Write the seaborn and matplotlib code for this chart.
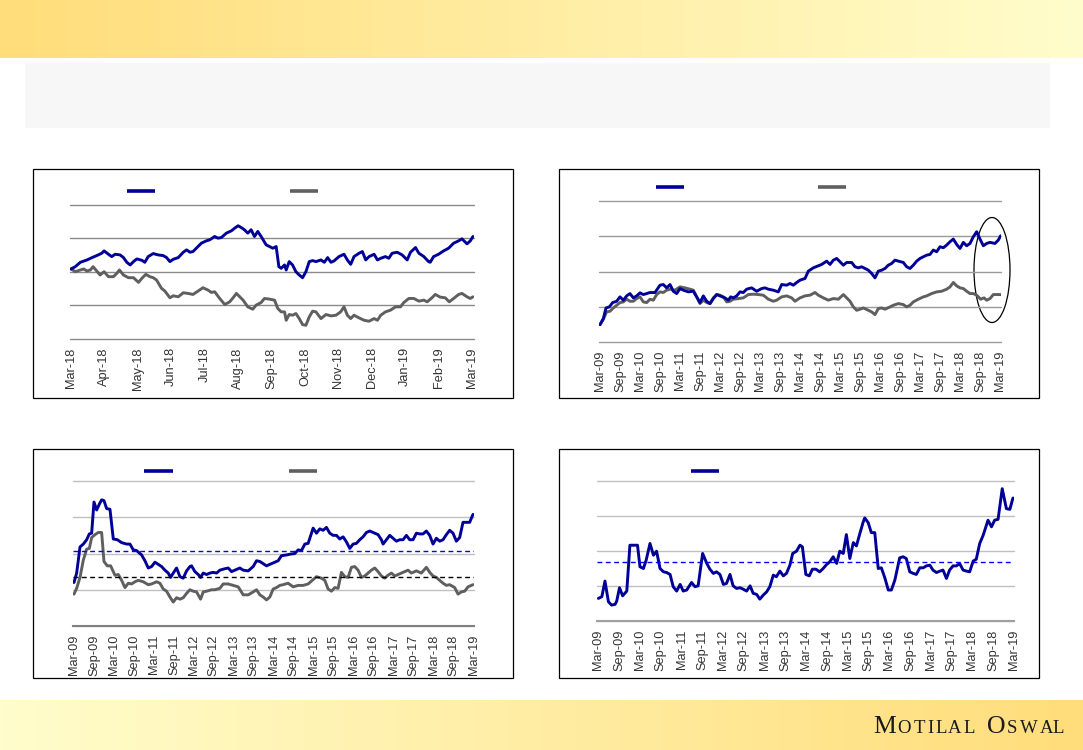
import matplotlib
matplotlib.use("Agg")
import matplotlib.pyplot as plt
from matplotlib.patches import Rectangle, Ellipse
from matplotlib.colors import LinearSegmentedColormap
import seaborn as sns
import numpy as np

# ---- data ----
# panel 1: 1-year, rebased index, x = months since Mar-18
p1_blue_m = [0.00, 0.13, 0.28, 0.48, 0.63, 0.77, 0.92, 0.99, 1.12, 1.22, 1.32, 1.47, 1.57, 1.67, 1.77, 1.87,
             1.97, 2.12, 2.21, 2.31, 2.46, 2.61, 2.76, 2.86, 2.96, 3.06, 3.21, 3.36, 3.46, 3.56, 3.65, 3.75,
             3.90, 4.05, 4.15, 4.30, 4.40, 4.50, 4.65, 4.80, 4.90, 5.00, 5.09, 5.19, 5.29, 5.39, 5.49, 5.59,
             5.69, 5.84, 5.94, 6.04, 6.14, 6.22, 6.29, 6.39, 6.44, 6.53, 6.63, 6.73, 6.83, 6.93, 7.03, 7.13,
             7.23, 7.33, 7.48, 7.58, 7.68, 7.78, 7.87, 8.02, 8.17, 8.27, 8.37, 8.47, 8.62, 8.72, 8.82, 8.92,
             9.07, 9.17, 9.27, 9.41, 9.51, 9.61, 9.76, 9.91, 10.06, 10.16, 10.31, 10.41, 10.56, 10.70, 10.75,
             10.85, 11.00, 11.15, 11.30, 11.45, 11.60, 11.70, 11.85, 11.95, 12.03]
p1_blue = [100.9, 101.6, 102.9, 103.6, 104.3, 104.9, 105.6, 106.3, 105.3, 104.6, 105.3, 105.1, 104.3, 102.9,
           102.1, 103.1, 103.9, 103.5, 102.9, 104.6, 105.5, 105.1, 104.9, 104.3, 103.1, 103.8, 104.3, 105.9,
           106.6, 105.9, 106.1, 107.1, 108.6, 109.3, 109.6, 110.6, 110.1, 110.3, 111.6, 112.3, 113.1, 113.8,
           113.3, 112.6, 111.6, 112.6, 110.6, 112.1, 110.6, 108.1, 107.6, 107.1, 107.6, 101.6, 101.1, 102.1,
           100.6, 103.1, 102.1, 100.1, 99.1, 98.3, 100.1, 103.1, 103.4, 103.1, 103.6, 102.9, 104.3, 102.9,
           103.3, 104.6, 105.3, 103.6, 102.3, 104.6, 105.6, 106.1, 103.6, 104.6, 105.3, 103.6, 104.1, 104.6,
           104.1, 105.6, 105.9, 105.1, 103.6, 105.9, 107.3, 105.6, 104.6, 103.1, 102.9, 104.6, 105.3, 106.3,
           107.1, 108.6, 109.3, 109.9, 108.4, 109.3, 110.6]
p1_grey_m = [0.00, 0.13, 0.28, 0.38, 0.48, 0.58, 0.66, 0.77, 0.87, 0.99, 1.12, 1.27, 1.37, 1.45, 1.57, 1.72,
             1.87, 2.02, 2.12, 2.24, 2.36, 2.46, 2.56, 2.71, 2.81, 2.96, 3.06, 3.21, 3.36, 3.51, 3.65, 3.80,
             3.95, 4.10, 4.20, 4.30, 4.45, 4.60, 4.75, 4.85, 4.95, 5.05, 5.15, 5.29, 5.44, 5.54, 5.69, 5.79,
             5.94, 6.09, 6.19, 6.29, 6.39, 6.44, 6.53, 6.63, 6.73, 6.83, 6.93, 7.03, 7.13, 7.23, 7.33, 7.48,
             7.63, 7.78, 7.93, 8.07, 8.17, 8.27, 8.37, 8.47, 8.62, 8.77, 8.92, 9.07, 9.17, 9.27, 9.41, 9.56,
             9.71, 9.86, 9.96, 10.11, 10.26, 10.41, 10.56, 10.66, 10.80, 10.90, 11.05, 11.20, 11.32, 11.45,
             11.60, 11.70, 11.85, 11.95, 12.03]
p1_grey = [100.9, 100.1, 100.6, 100.9, 100.3, 100.6, 101.6, 100.3, 99.1, 100.1, 98.6, 98.6, 99.6, 100.6, 99.1,
           98.3, 98.3, 96.9, 98.1, 99.3, 98.6, 98.3, 97.6, 95.1, 94.3, 92.3, 92.9, 92.6, 93.8, 93.6, 93.3, 94.3,
           95.3, 94.6, 93.9, 94.1, 92.1, 90.3, 91.1, 92.3, 93.6, 92.6, 91.6, 89.6, 88.9, 90.1, 90.9, 92.1, 91.9,
           91.6, 89.1, 88.1, 88.1, 85.6, 87.3, 87.1, 87.6, 86.1, 84.3, 84.1, 86.6, 88.3, 88.1, 86.1, 87.3, 86.9,
           87.1, 88.1, 89.6, 87.1, 86.1, 87.1, 86.3, 85.6, 85.3, 86.1, 85.6, 87.1, 88.1, 88.6, 89.6, 89.6, 90.9,
           92.1, 92.1, 91.3, 91.6, 91.1, 92.3, 93.3, 92.5, 92.3, 91.1, 92.1, 93.3, 93.6, 92.6, 92.1, 92.6]
p1_labels = ["Mar-18", "Apr-18", "May-18", "Jun-18", "Jul-18", "Aug-18", "Sep-18", "Oct-18",
             "Nov-18", "Dec-18", "Jan-19", "Feb-19", "Mar-19"]

# panel 2: 10-year index, x = months since Mar-09
p2_blue_m = [0, 1, 1.8, 2.8, 3.8, 5, 6, 7, 8, 9, 10, 11, 12, 13, 14, 15, 16.5, 18, 19, 20, 21, 22, 23, 24, 25,
             26.5, 28, 29, 30, 31, 32, 33, 34, 35, 36, 37.5, 38.5, 39.2, 40, 41, 42, 43, 44, 45.5, 47, 48.5, 49.5,
             50.5, 52, 53.5, 54.5, 56, 57, 58, 59, 60, 61.5, 62.5, 64, 65.5, 66.5, 68, 69, 70, 71, 72, 73, 74,
             75.5, 76.5, 77.5, 78.5, 79.5, 80.5, 81.5, 82.5, 83.5, 84.5, 85.5, 86.5, 87.5, 88.5, 89.5, 91, 92, 93,
             94, 95, 96, 97, 98, 99, 100, 101, 102, 103, 104, 105, 106, 107, 108, 109, 110, 111, 112, 113, 114,
             115, 116, 117, 118.5, 119.5, 120.2]
p2_blue = [74.6, 83.2, 98.3, 99.8, 105.9, 107.8, 114.0, 109.3, 115.4, 118.7, 112.6, 115.4, 119.7, 117.3, 118.7,
           120.2, 120.2, 130.6, 131.5, 126.8, 131.5, 122.0, 118.7, 125.8, 123.5, 121.1, 122.0, 114.0, 105.9, 115.4,
           107.8, 104.5, 111.6, 117.3, 115.4, 112.6, 109.3, 114.0, 112.6, 115.4, 121.1, 120.2, 124.9, 126.8, 122.0,
           125.8, 126.8, 124.9, 123.5, 121.1, 131.5, 130.6, 133.0, 130.6, 134.4, 137.7, 140.1, 150.5, 155.2, 158.1,
           160.0, 164.7, 160.0, 166.1, 168.5, 163.8, 159.0, 162.8, 162.8, 156.7, 155.2, 156.7, 154.3, 151.9, 147.2,
           141.0, 150.5, 151.9, 154.3, 159.0, 161.4, 166.1, 164.7, 162.8, 156.7, 154.3, 159.0, 164.7, 168.5, 170.9,
           173.2, 174.2, 180.4, 178.0, 185.1, 183.7, 187.5, 192.2, 196.0, 188.4, 182.7, 191.3, 186.5, 189.8, 199.3,
           206.4, 196.0, 186.5, 189.8, 191.3, 189.8, 194.6, 200.7]
p2_grey_m = [0, 1, 2, 3, 4, 5, 6, 7, 8, 9, 10, 11, 12, 13, 14, 15, 16, 17, 18, 19, 20, 21, 22.5, 24, 25.5, 27,
             28, 29, 30, 31, 32, 33, 34, 35, 36, 37, 38, 39, 40, 41.5, 43, 44.5, 46, 47.5, 49, 50.5, 52, 53, 54.5,
             56, 57.5, 58.5, 60, 61.5, 63, 64.5, 65.5, 67, 68.5, 70, 71.5, 73, 74, 75, 76, 77, 78, 79, 80.5, 81.5,
             82.5, 83.5, 84.5, 85.5, 87, 88, 89.5, 91, 92, 93, 94, 95.5, 97, 98, 99.5, 101, 102.5, 104, 105, 106,
             107, 108, 109, 110, 111, 112, 113, 114.2, 115.2, 116, 117, 118, 119, 120.2]
p2_grey = [74.6, 82.2, 92.7, 93.6, 98.3, 102.1, 105.9, 106.9, 110.7, 107.8, 107.8, 111.6, 114.0, 106.9, 105.9,
           110.7, 109.3, 117.3, 121.1, 120.2, 123.5, 124.9, 123.5, 128.2, 126.8, 124.9, 123.5, 114.0, 104.5, 109.3,
           105.9, 104.5, 112.6, 117.3, 116.4, 114.0, 106.9, 107.8, 110.7, 111.6, 112.6, 117.3, 117.8, 117.3, 116.4,
           110.7, 107.8, 109.3, 114.0, 115.4, 112.6, 107.8, 112.6, 115.4, 116.4, 120.2, 116.4, 112.6, 109.3, 111.6,
           110.7, 117.3, 112.6, 107.8, 99.8, 95.0, 96.5, 98.3, 95.0, 92.7, 88.9, 97.4, 98.3, 96.5, 99.8, 102.1,
           104.5, 103.1, 99.8, 102.1, 106.9, 110.7, 114.0, 115.4, 118.7, 121.1, 122.0, 124.9, 128.2, 134.4, 129.6,
           126.8, 125.8, 122.0, 118.7, 118.7, 116.4, 110.7, 112.6, 109.3, 111.6, 117.3, 117.3, 117.3]

# panel 3: 10-year valuation multiple, with long-period averages
p3_blue_m = [0, 0.8, 1.8, 2.8, 3.8, 4.6, 5.3, 6.0, 6.8, 7.6, 8.3, 9.0, 9.8, 10.8, 11.8, 13.0, 14.3, 15.8, 16.8,
             17.8, 18.8, 20.3, 21.3, 22.3, 23.3, 24.3, 25.3, 26.3, 27.3, 28.3, 29.0, 29.8, 30.8, 31.8, 32.8, 33.8,
             34.8, 35.3, 36.3, 37.3, 38.0, 38.8, 39.8, 40.8, 41.8, 42.8, 43.8, 45.3, 46.3, 47.3, 48.3, 49.8, 50.8,
             52.3, 53.8, 54.8, 55.8, 56.8, 57.8, 58.8, 60.3, 61.3, 62.3, 63.8, 64.8, 66.3, 67.3, 68.3, 69.3, 70.3,
             71.3, 71.8, 72.8, 73.8, 74.8, 75.8, 76.8, 77.8, 78.8, 79.8, 80.8, 81.8, 82.8, 83.8, 84.8, 85.8, 86.8,
             87.8, 88.8, 90.3, 91.3, 92.3, 92.8, 93.8, 94.8, 95.8, 96.8, 97.8, 98.8, 99.8, 100.8, 101.8, 102.8,
             103.8, 104.8, 105.8, 106.8, 107.8, 108.8, 109.8, 110.8, 111.8, 112.8, 113.8, 114.8, 115.8, 116.8,
             117.8, 118.8, 119.8]
p3_blue = [11.0, 12.3, 15.9, 16.3, 16.9, 17.7, 17.8, 22.1, 21.0, 21.8, 22.4, 22.3, 21.2, 21.1, 17.0, 16.9, 16.5,
           16.3, 16.3, 15.5, 15.4, 14.8, 14.0, 13.0, 13.2, 13.8, 13.5, 13.2, 12.7, 12.3, 11.7, 12.3, 13.0, 11.8,
           11.6, 12.6, 13.2, 13.3, 12.5, 12.1, 11.7, 12.3, 12.1, 12.3, 12.4, 12.3, 12.7, 12.9, 13.0, 12.5, 12.7,
           13.0, 12.7, 12.6, 13.2, 14.0, 13.9, 13.6, 13.3, 13.5, 13.8, 14.0, 14.7, 14.8, 14.9, 15.0, 15.5, 15.4,
           16.3, 16.4, 17.8, 18.5, 17.8, 18.4, 18.2, 18.6, 17.8, 17.5, 17.5, 17.0, 17.3, 16.6, 15.7, 16.3, 16.4,
           16.9, 17.3, 17.9, 18.1, 17.8, 17.6, 16.9, 16.3, 16.9, 17.5, 17.1, 16.7, 16.9, 16.9, 17.5, 16.9, 16.9,
           17.8, 17.7, 17.7, 18.1, 17.5, 16.3, 17.1, 16.7, 16.9, 17.6, 18.2, 17.8, 16.7, 17.2, 19.3, 19.3, 19.3,
           20.4]
p3_grey_m = [0, 0.8, 1.8, 2.8, 3.8, 4.6, 5.3, 6.3, 7.3, 8.3, 9.0, 10.0, 11.0, 12.3, 13.3, 14.3, 15.3, 16.3, 17.3,
             18.3, 19.3, 20.8, 22.3, 23.3, 24.8, 25.8, 26.8, 27.8, 28.8, 29.8, 30.8, 31.8, 32.8, 33.8, 34.8, 35.8,
             36.8, 38.0, 38.8, 39.8, 41.3, 42.3, 43.8, 44.8, 46.3, 47.8, 49.3, 50.8, 52.3, 53.8, 54.8, 55.8, 56.8,
             57.8, 58.8, 59.8, 60.8, 61.8, 62.8, 64.3, 65.8, 67.3, 68.8, 70.3, 71.3, 72.8, 74.3, 75.3, 76.3, 77.3,
             78.3, 79.3, 80.3, 81.3, 82.3, 83.3, 84.3, 85.3, 86.3, 87.3, 88.3, 89.3, 90.3, 91.3, 92.3, 93.3, 94.3,
             95.3, 96.3, 97.3, 98.3, 99.3, 100.3, 101.3, 102.8, 104.3, 105.8, 106.8, 107.8, 108.8, 109.8, 110.8,
             111.8, 112.8, 114.3, 115.3, 116.3, 117.3, 118.3, 119.8]
p3_grey = [9.4, 10.2, 11.7, 14.1, 15.6, 15.7, 17.2, 17.6, 17.9, 17.9, 13.9, 13.3, 13.3, 12.0, 12.1, 11.3, 10.3,
           10.9, 10.8, 11.1, 11.3, 11.1, 10.7, 10.8, 11.1, 10.9, 10.1, 9.8, 9.0, 8.3, 8.9, 8.7, 8.9, 9.5, 10.0, 9.8,
           9.7, 8.7, 9.7, 9.8, 10.0, 10.0, 10.2, 10.8, 10.8, 10.6, 10.4, 9.3, 9.3, 9.7, 10.0, 9.3, 9.0, 8.6, 9.0,
           10.1, 10.3, 10.6, 10.7, 10.9, 10.4, 10.6, 10.6, 10.8, 11.2, 11.8, 11.6, 11.3, 10.1, 9.8, 10.3, 10.2,
           12.4, 11.8, 11.7, 13.1, 13.2, 12.7, 11.7, 11.9, 12.3, 12.7, 13.0, 12.5, 11.9, 11.6, 12.0, 12.3, 11.9,
           12.1, 12.3, 12.5, 12.7, 12.3, 12.6, 12.3, 13.1, 12.4, 11.9, 11.7, 11.3, 10.9, 10.6, 10.7, 10.3, 9.4,
           9.7, 9.8, 10.4, 10.7]
p3_blue_avg = 15.4
p3_grey_avg = 11.7

# panel 4: premium (%) with average
p4_m = [0, 1.0, 1.9, 2.9, 3.8, 4.8, 5.3, 6.1, 7.0, 8.2, 9.1, 10.1, 11.3, 12.0, 13.0, 13.8, 14.9, 15.9, 16.8, 17.8,
        18.8, 19.7, 20.7, 21.6, 22.6, 23.6, 24.5, 25.5, 26.9, 27.9, 28.8, 30.1, 31.3, 32.2, 33.2, 34.1, 35.1, 36.1,
        37.0, 38.0, 38.9, 39.9, 40.9, 41.8, 42.8, 43.8, 44.7, 45.7, 46.6, 47.6, 48.6, 49.5, 50.5, 51.4, 52.4, 53.4,
        54.3, 55.3, 56.1, 57.2, 58.2, 58.9, 59.9, 60.9, 61.8, 62.8, 63.9, 64.9, 65.9, 66.8, 67.8, 68.8, 69.7, 70.7,
        71.6, 72.6, 73.6, 74.5, 75.5, 76.4, 76.9, 77.9, 78.8, 79.8, 80.8, 81.7, 82.7, 83.7, 84.6, 85.6, 87.0, 88.0,
        88.9, 89.9, 90.9, 91.8, 92.8, 93.8, 94.7, 95.7, 96.6, 97.6, 98.6, 99.5, 100.5, 101.4, 102.4, 103.4, 104.3,
        105.3, 106.3, 107.2, 108.2, 109.1, 110.1, 111.1, 112.5, 113.5, 114.4, 115.4, 116.6, 117.8, 118.8, 119.7]
p4_val = [12.9, 13.9, 22.8, 11.0, 9.1, 9.5, 11.4, 19.0, 14.4, 17.1, 43.3, 43.3, 43.3, 31.0, 30.0, 34.8, 44.3, 37.6,
          39.9, 30.0, 28.1, 27.7, 26.6, 19.6, 17.1, 20.9, 17.1, 17.7, 22.0, 19.6, 20.1, 38.6, 32.9, 29.6, 27.2, 28.1,
          26.6, 20.9, 21.5, 26.6, 20.1, 18.6, 19.0, 18.2, 17.1, 20.1, 15.8, 15.2, 12.5, 14.8, 16.7, 19.6, 26.2, 25.3,
          28.5, 25.8, 27.2, 31.9, 38.6, 39.9, 43.3, 42.4, 26.6, 25.8, 29.6, 29.6, 28.1, 30.0, 32.3, 33.8, 36.7, 32.9,
          39.9, 38.6, 49.4, 35.7, 44.8, 42.9, 50.0, 56.2, 58.9, 56.2, 50.5, 50.5, 30.0, 30.4, 24.7, 17.7, 17.7, 23.4,
          36.1, 36.7, 35.7, 28.1, 27.2, 26.6, 30.4, 30.4, 31.5, 31.9, 29.1, 27.7, 28.5, 29.1, 24.3, 29.1, 31.5, 31.5,
          32.9, 29.1, 28.5, 28.1, 34.2, 35.3, 44.3, 49.0, 57.6, 53.8, 57.6, 58.1, 75.6, 64.2, 63.8, 70.3]
p4_avg = 33.8

half_year_labels = []
for yr in range(9, 20):
    half_year_labels.append(f"Mar-{yr:02d}")
    if yr < 19:
        half_year_labels.append(f"Sep-{yr:02d}")

BLUE = "#000099"
GREY = "#5f5f5f"
W, H = 1083, 750

sns.set_style("white")
plt.rcParams["font.family"] = ["Liberation Sans", "DejaVu Sans"]

fig = plt.figure(figsize=(W / 100, H / 100), dpi=100)

# background layer in pixel coords
bg = fig.add_axes([0, 0, 1, 1])
grad = np.linspace(0, 1, 256)[None, :]
cmap = LinearSegmentedColormap.from_list("band", ["#FFDD7A", "#FFFDCC"])
bg.imshow(grad, cmap=cmap, extent=[0, W, 58, 0], aspect="auto")
bg.imshow(grad[:, ::-1], cmap=cmap, extent=[0, W, 750, 700], aspect="auto")
bg.set_xlim(0, W)
bg.set_ylim(H, 0)
bg.axis("off")
bg.add_patch(Rectangle((25, 63), 1025, 65, color="#F7F7F7", lw=0))
for (x0, y0, x1, y1) in [(33, 169, 513, 398), (559, 169, 1039, 398), (33, 449, 513, 678), (559, 449, 1039, 678)]:
    bg.add_patch(Rectangle((x0, y0), x1 - x0, y1 - y0, fill=False, ec="black", lw=0.9))

# legend swatches (legend text is blank in the source)
for (x0, x1, y, c) in [(127, 155, 191, BLUE), (290, 318, 191, GREY), (656, 684, 187, BLUE), (818, 846, 187, GREY),
                       (144, 173, 471, BLUE), (289, 317, 471, GREY), (691, 719, 471, BLUE)]:
    bg.plot([x0, x1], [y, y], color=c, lw=2.6, solid_capstyle="butt")

# highlight ellipse on panel 2
bg.add_patch(Ellipse((992, 270), 36, 105, fill=False, ec="black", lw=0.9))

# logo in small caps
letters = [("M", 885), ("O", 904.5), ("T", 919.5), ("I", 930.5), ("L", 941), ("A", 954.5), ("L", 969.5),
           ("O", 996), ("S", 1012), ("W", 1029), ("A", 1046.5), ("L", 1058.5)]
for i, (ch, x) in enumerate(letters):
    size = 18.5 if i in (0, 7) else 13.5
    bg.text(x, 733, ch, ha="center", va="baseline", fontsize=size, color="#1a1a1a",
            family=["Liberation Serif", "DejaVu Serif"])


def px_axes(x0, y0, x1, y1):
    ax = fig.add_axes([x0 / W, 1 - y1 / H, (x1 - x0) / W, (y1 - y0) / H])
    ax.set_facecolor("none")
    return ax


def style(ax, yticks, gridc, ticks, labels, bottomc=None):
    ax.set_yticks(yticks)
    ax.set_ylim(yticks[0], yticks[-1])
    ax.yaxis.grid(True, color=gridc, lw=1.0)
    ax.set_axisbelow(True)
    for gl in ax.get_ygridlines():
        gl.set_clip_on(False)
    ax.set_xticks(ticks)
    ax.set_xticklabels(labels)
    ax.tick_params(axis="x", length=0, pad=6, labelrotation=90, labelsize=9.2, labelcolor="#333333")
    ax.tick_params(axis="y", length=0, labelleft=False)
    for s in ax.spines.values():
        s.set_visible(False)
    if bottomc:
        ax.spines["bottom"].set_visible(True)
        ax.spines["bottom"].set_color(bottomc)
        ax.spines["bottom"].set_linewidth(1.5)
    ax.set_xlabel("")
    ax.set_ylabel("")


def line(ax, x, y, c):
    sns.lineplot(x=x, y=y, ax=ax, color=c, linewidth=2.1, sort=False, estimator=None)


# panel 1
ax1 = px_axes(70, 205, 474, 339)
line(ax1, p1_grey_m, p1_grey, GREY)
line(ax1, p1_blue_m, p1_blue, BLUE)
ax1.set_xlim(-0.03, 12.06)
style(ax1, [80, 90, 100, 110, 120], "#8a8a8a", list(range(13)), p1_labels)

# panel 2
ax2 = px_axes(599, 201, 1001, 342)
line(ax2, p2_grey_m, p2_grey, GREY)
line(ax2, p2_blue_m, p2_blue, BLUE)
ax2.set_xlim(-0.3, 120.3)
style(ax2, [50, 100, 150, 200, 250], "#9a9a9a", list(range(0, 121, 6)), half_year_labels)

# panel 3
ax3 = px_axes(73, 481, 474, 626)
line(ax3, p3_grey_m, p3_grey, GREY)
line(ax3, p3_blue_m, p3_blue, BLUE)
ax3.axhline(p3_blue_avg, color="#0000FF", lw=1.0, ls=(0, (3.5, 2.5)))
ax3.axhline(p3_grey_avg, color="black", lw=1.0, ls=(0, (3.5, 2.5)))
ax3.set_xlim(-0.3, 120.1)
style(ax3, [5, 10, 15, 20, 25], "#c0c0c0", list(range(0, 121, 6)), half_year_labels, bottomc="#808080")

# panel 4
ax4 = px_axes(597, 481, 1014, 621)
line(ax4, p4_m, p4_val, BLUE)
ax4.axhline(p4_avg, color="#0000FF", lw=1.0, ls=(0, (3.5, 2.5)))
ax4.set_xlim(-0.4, 120.0)
style(ax4, [0, 20, 40, 60, 80], "#c0c0c0", list(range(0, 121, 6)), half_year_labels, bottomc="#a0a0a0")

fig.savefig("out.png", dpi=100)
